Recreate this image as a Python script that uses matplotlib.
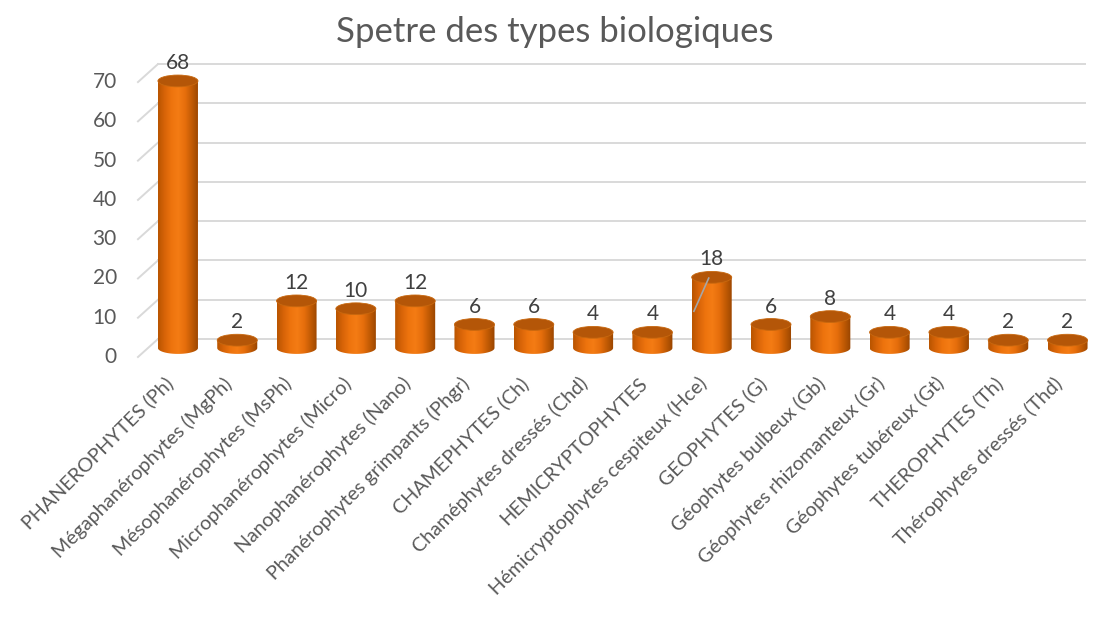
import numpy as np
import matplotlib.pyplot as plt
from matplotlib.path import Path
from matplotlib.patches import Ellipse, PathPatch
from matplotlib.colors import LinearSegmentedColormap

plt.rcParams['font.family'] = ['Lato', 'DejaVu Sans']

# data
categories = ['PHANEROPHYTES (Ph)', 'Mégaphanérophytes (MgPh)', 'Mésophanérophytes (MsPh)',
              'Microphanérophytes (Micro)', 'Nanophanérophytes (Nano)', 'Phanérophytes grimpants (Phgr)',
              'CHAMEPHYTES (Ch)', 'Chaméphytes dressés (Chd)', 'HEMICRYPTOPHYTES',
              'Hémicryptophytes cespiteux (Hce)', 'GEOPHYTES (G)', 'Géophytes bulbeux (Gb)',
              'Géophytes rhizomanteux (Gr)', 'Géophytes tubéreux (Gt)', 'THEROPHYTES (Th)',
              'Thérophytes dressés (Thd)']
values = [68, 2, 12, 10, 12, 6, 6, 4, 4, 18, 6, 8, 4, 4, 2, 2]
yticks = [0, 10, 20, 30, 40, 50, 60, 70]

# pseudo-3d settings
bar_w = 0.675
ell_h = 3.0
depth_dx, depth_dy = 0.337, 2.29
grid_color = '#d9d9d9'
text_color = '#595959'

body_cmap = LinearSegmentedColormap.from_list(
    'cyl', ['#b85400', '#d86408', '#ee740e', '#f47c14', '#e66e0c', '#c05a04', '#974400'])

fig = plt.figure(figsize=(10.96, 6.21), dpi=100)
ax = fig.add_axes([0.0912, 0.4122, 0.9088, 0.4992])
ax.axis('off')

# walls / gridlines
x_right = 15.3
for t in yticks:
    # side wall diagonal
    ax.plot([-2 * depth_dx, -depth_dx], [t - depth_dy, t + depth_dy], color=grid_color, lw=1.4,
            zorder=0, clip_on=False)
    # back wall line
    ax.plot([-depth_dx, x_right], [t + depth_dy, t + depth_dy], color=grid_color, lw=1.4, zorder=0)
    ax.text(-1.03, t - depth_dy, str(t), ha='right', va='center', fontsize=15, color=text_color)

grad = np.linspace(0, 1, 256).reshape(1, -1)
for i, v in enumerate(values):
    x0, x1 = i - bar_w / 2, i + bar_w / 2
    # body outline: left side, bottom half-ellipse, right side
    th = np.linspace(np.pi, 2 * np.pi, 40)
    arc = np.column_stack([i + bar_w / 2 * np.cos(th), ell_h / 2 * np.sin(th)])
    verts = np.vstack([[x0, v], arc, [x1, v], [x0, v]])
    body = PathPatch(Path(verts), facecolor='none', edgecolor='none')
    ax.add_patch(body)
    im = ax.imshow(grad, cmap=body_cmap, extent=[x0, x1, -ell_h, v], aspect='auto', zorder=2,
                   interpolation='bilinear')
    im.set_clip_path(body)
    top = Ellipse((i, v), bar_w, ell_h, facecolor='#b45608', edgecolor='#c8680f', lw=0.6, zorder=3)
    ax.add_patch(top)
    ax.text(i, v + 2.0, str(v), ha='center', va='bottom', fontsize=15, color='#404040', zorder=5)
    ax.text(i - 0.13, -8.3, categories[i], rotation=45, rotation_mode='anchor', ha='right',
            va='center', fontsize=14.2, color=text_color, clip_on=False)

# leader line of the 18 label
k = values.index(18)
ax.plot([k - 0.3, k - 0.05], [values[k] * 0.52, values[k] - 0.2], color='#a6a6a6', lw=1.2, zorder=4)

ax.set_xlim(-1.315, 15.48)
ax.set_ylim(-4.33, 74.6)

fig.text(0.506, 1 - 32 / 621, 'Spetre des types biologiques', ha='center', va='center',
         fontsize=25, color=text_color)

fig.savefig('out.png', dpi=100, facecolor='white')
